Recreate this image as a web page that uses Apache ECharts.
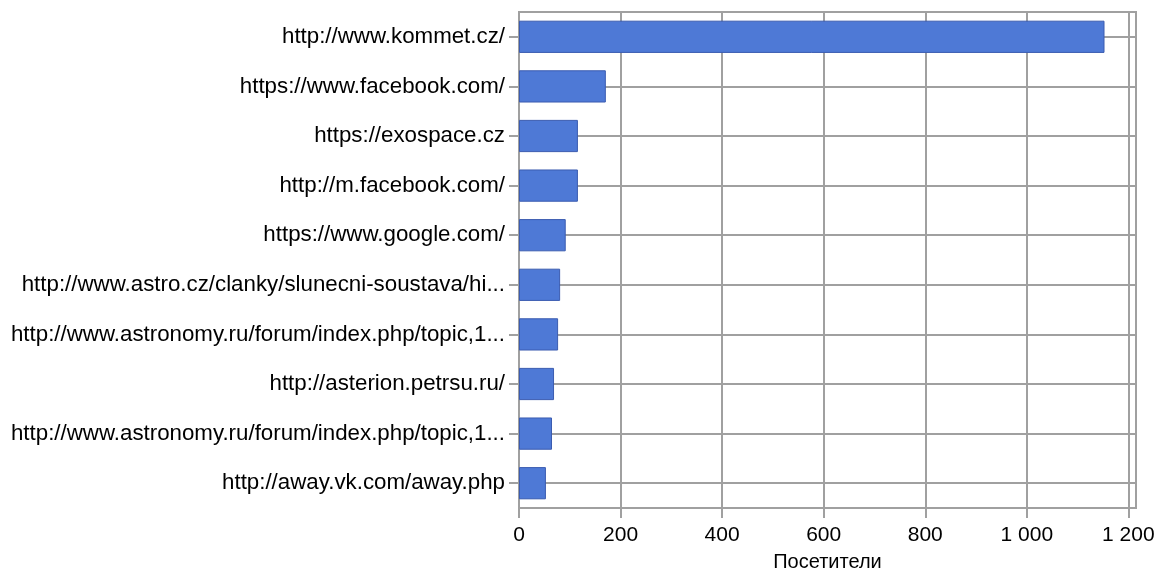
<!DOCTYPE html>
<html>
<head>
<meta charset="utf-8">
<script src="https://cdn.jsdelivr.net/npm/echarts@6/dist/echarts.min.js"></script>
<style>
  html, body { margin: 0; padding: 0; background: #fff; }
  #chart { width: 1156px; height: 571px; }
</style>
</head>
<body>
<div id="chart"></div>
<script>
// referrers, top to bottom
const sites = [
  'http://www.kommet.cz/',
  'https://www.facebook.com/',
  'https://exospace.cz',
  'http://m.facebook.com/',
  'https://www.google.com/',
  'http://www.astro.cz/clanky/slunecni-soustava/hi...',
  'http://www.astronomy.ru/forum/index.php/topic,1...',
  'http://asterion.petrsu.ru/',
  'http://www.astronomy.ru/forum/index.php/topic,1...',
  'http://away.vk.com/away.php'
];
const visitors = [1153, 171, 116, 116, 92, 81, 77, 69, 65, 53];
const axisTitle = 'Посетители';

const chart = echarts.init(document.getElementById('chart'));

const fontFamily = '"Liberation Sans", Arial, sans-serif';
const gridColor = '#a0a0a0';

chart.setOption({
  animation: false,
  grid: {
    left: 519,
    right: 20,
    top: 12,
    bottom: 63,
    show: true,
    borderColor: gridColor,
    borderWidth: 2,
    containLabel: false,
    outerBoundsMode: 'none'
  },
  xAxis: {
    type: 'value',
    min: 0,
    max: 1215,
    interval: 200,
    name: axisTitle,
    nameLocation: 'middle',
    nameGap: 44,
    nameTextStyle: { color: '#000', fontSize: 20, fontFamily: fontFamily },
    axisLine: { show: true, lineStyle: { color: gridColor, width: 2 } },
    axisTick: { show: true, length: 10, lineStyle: { color: gridColor, width: 2 } },
    axisLabel: {
      color: '#000',
      fontSize: 21,
      fontFamily: fontFamily,
      margin: 17,
      showMaxLabel: false,
      formatter: function (v) {
        if (v % 200 !== 0) return '';
        return String(v).replace(/\B(?=(\d{3})+(?!\d))/g, ' ');
      }
    },
    splitLine: { show: true, lineStyle: { color: gridColor, width: 2 } }
  },
  yAxis: {
    type: 'category',
    inverse: true,
    data: sites,
    axisLine: { show: true, lineStyle: { color: gridColor, width: 2 } },
    axisTick: { show: true, length: 10, alignWithLabel: true, lineStyle: { color: gridColor, width: 2 } },
    axisLabel: { color: '#000', fontSize: 22.3, fontFamily: fontFamily, margin: 14 },
    splitLine: { show: true, alignWithLabel: true, lineStyle: { color: gridColor, width: 2 } }
  },
  series: [
    {
      type: 'bar',
      data: visitors,
      barWidth: '65%',
      itemStyle: {
        color: '#4e79d6',
        borderColor: '#3b5cb0',
        borderWidth: 1
      }
    }
  ]
});
</script>
</body>
</html>
